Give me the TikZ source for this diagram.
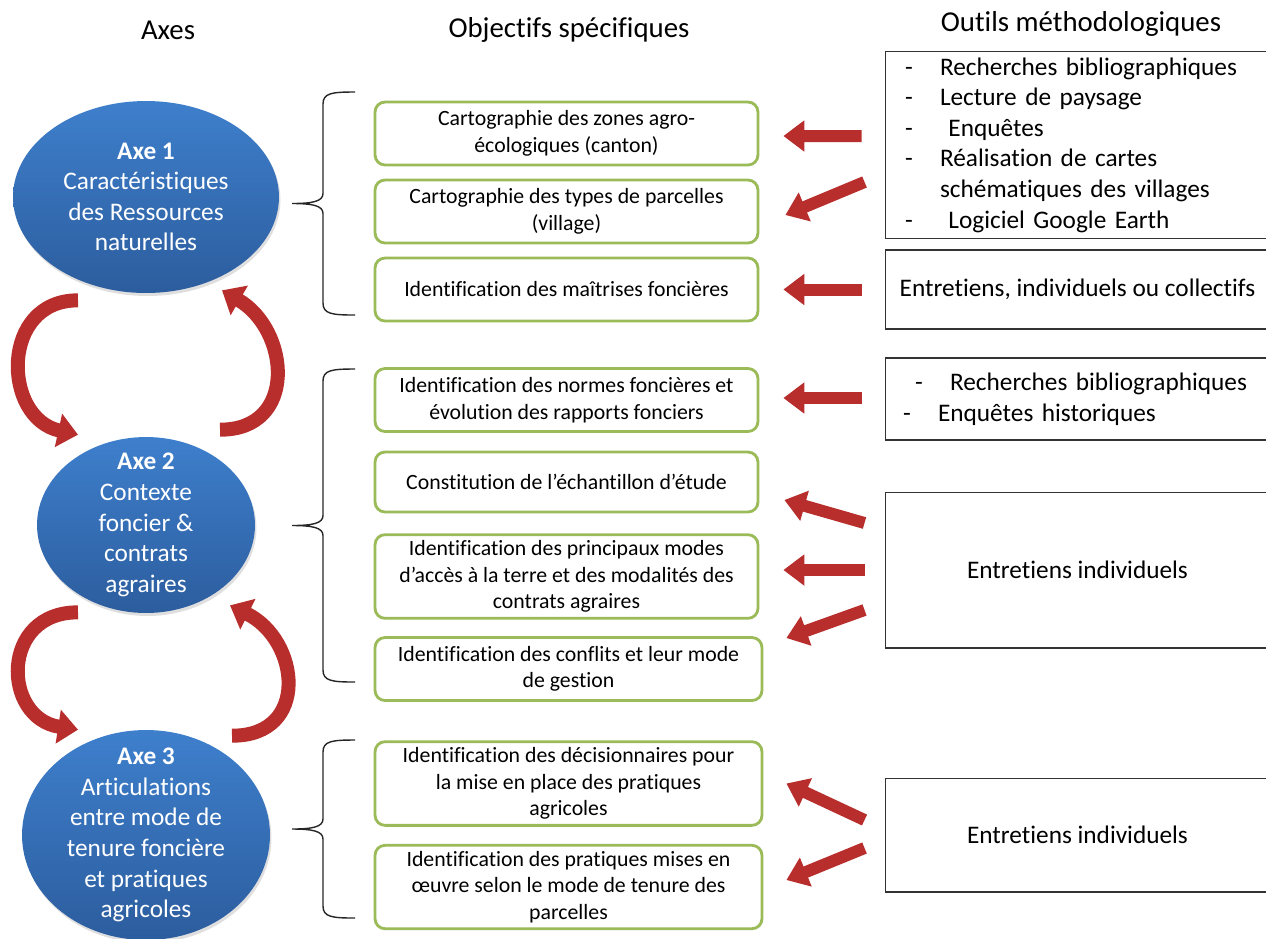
\documentclass[tikz,border=0pt]{standalone}
\usepackage{fontspec}
\setmainfont{Carlito}[Ligatures=NoCommon]
\usetikzlibrary{shapes.geometric,arrows.meta,calc,shadows}
\definecolor{axeblue}{RGB}{62,127,204}
\definecolor{axeblued}{RGB}{44,93,158}
\definecolor{objgreen}{RGB}{155,187,89}
\definecolor{arrowred}{RGB}{184,46,44}
\newcommand{\tiret}[1]{\makebox[0.7cm][l]{-}#1}
\tikzset{
	head/.style={font=\fontsize{16.4}{19.7}\selectfont},
	axe/.style={ellipse, inner xsep=0pt, inner ysep=-0.4cm, align=center, text=white,
		top color=axeblue, bottom color=axeblued,
		drop shadow={opacity=0.25, shadow xshift=0.03cm, shadow yshift=-0.06cm},
		font=\fontsize{14.4}{17.4}\selectfont},
	objbox/.style={rectangle, rounded corners=0.2cm, draw=objgreen, line width=1.6pt,
		fill=white, minimum width=7.66cm, minimum height=1.26cm, align=center,
		font=\fontsize{12.4}{15.1}\selectfont},
	toolbox/.style={rectangle, draw=black!80, line width=0.6pt, minimum width=7.7cm,
		font=\fontsize{14.4}{17.4}\selectfont},
	pointer/.style={draw=arrowred, line width=0.24cm, -{Triangle[length=0.42cm,width=0.6cm]}},
	cyclearrow/.style={draw=arrowred, line width=0.28cm, -{Triangle[length=0.4cm,width=0.66cm]}},
	bracket/.style={draw=black!85, line width=0.8pt}
}
\begin{document}
\begin{tikzpicture}[x=0.02cm, y=-0.02cm]
	\useasboundingbox (0,0) rectangle (1266,938);
	% headers
	\node[head] (hAxes) at (168,30) {Axes};
	\node[head] (hObj) at (569,30) {Objectifs spécifiques};
	\node[head] (hOut) at (1081,24) {Outils méthodologiques};
	% axes
	\node[axe, minimum width=5.32cm, minimum height=3.84cm] (ax1) at (146,197)
		{\textbf{Axe 1}\\Caractéristiques\\des Ressources\\naturelles};
	\node[axe, minimum width=4.36cm, minimum height=3.52cm] (ax2) at (146,525)
		{\textbf{Axe 2}\\Contexte\\foncier \&\\contrats\\agraires};
	\node[axe, minimum width=4.96cm, minimum height=4.2cm] (ax3) at (146,835)
		{\textbf{Axe 3}\\Articulations\\entre mode de\\tenure foncière\\et pratiques\\agricoles};
	% objectifs
	\node[objbox] (b1) at (566.5,133.5) {Cartographie des zones agro-\\écologiques (canton)};
	\node[objbox] (b2) at (566.5,211.5) {Cartographie des types de parcelles\\(village)};
	\node[objbox] (b3) at (566.5,289.5) {Identification des maîtrises foncières};
	\node[objbox] (b4) at (566.5,400) {Identification des normes foncières et\\évolution des rapports fonciers};
	\node[objbox, minimum height=1.2cm] (b5) at (566.5,482) {Constitution de l’échantillon d’étude};
	\node[objbox, minimum height=1.62cm] (b6) at (566.5,576.5) {Identification des principaux modes\\d’accès à la terre et des modalités des\\contrats agraires};
	\node[objbox, minimum width=7.74cm] (b7) at (568.5,669) {Identification des conflits et leur mode\\de gestion};
	\node[objbox, minimum width=7.74cm, minimum height=1.66cm] (b8) at (568.5,783.5) {Identification des décisionnaires pour\\la mise en place des pratiques\\agricoles};
	\node[objbox, minimum width=7.74cm, minimum height=1.64cm] (b9) at (568.5,887) {Identification des pratiques mises en\\œuvre selon le mode de tenure des\\parcelles};
	% outils
	\node[toolbox, minimum height=3.72cm, text width=6.9cm, inner xsep=0.4cm, align=left] (o1) at (1077.5,145)
		{\tiret{Recherches bibliographiques}\\
		\tiret{Lecture de paysage}\\
		\tiret{\ Enquêtes}\\
		\tiret{Réalisation de cartes}\\
		\hspace*{0.7cm}schématiques des villages\\
		\tiret{\ Logiciel Google Earth}};
	\node[toolbox, minimum height=1.58cm] (o2) at (1077.5,289.5) {Entretiens, individuels ou collectifs};
	\node[toolbox, minimum height=1.64cm, text width=6.98cm, inner xsep=0.36cm, align=left] (o3) at (1077.5,399)
		{\hspace*{0.24cm}\tiret{Recherches bibliographiques}\\
		\tiret{Enquêtes historiques}};
	\node[toolbox, minimum height=3.12cm] (o4) at (1077.5,570) {Entretiens individuels};
	\node[toolbox, minimum height=2.28cm] (o5) at (1077.5,835) {Entretiens individuels};
	% accolades
	\def\drawbrace#1#2{
		\draw[bracket] (355,#1) .. controls (332,#1) and (323,{#1+1}) .. (323,{#1+12})
			-- (323,{(#1+#2)/2-10}) .. controls (323,{(#1+#2)/2-2}) and (312,{(#1+#2)/2}) .. (292,{(#1+#2)/2})
			.. controls (312,{(#1+#2)/2}) and (323,{(#1+#2)/2+2}) .. (323,{(#1+#2)/2+10})
			-- (323,{#2-12}) .. controls (323,{#2-1}) and (332,#2) .. (355,#2);
	}
	\drawbrace{92}{315}
	\drawbrace{369}{682}
	\drawbrace{740}{918}
	% fleches outils -> objectifs
	\draw[pointer] ($(o1.west)+(-23,-9)$) -- ($(b1.east)+(24,2.5)$);
	\draw[pointer] ($(o1.west)+(-20,37)$) -- ($(b2.east)+(26,3.5)$);
	\draw[pointer] ($(o2.west)+(-23,0)$) -- ($(b3.east)+(24,0)$);
	\draw[pointer] ($(o3.west)+(-23,-1)$) -- ($(b4.east)+(24,-2)$);
	\draw[pointer] ($(o4.west)+(-20,-47)$) -- ($(b5.east)+(25,18)$);
	\draw[pointer] ($(o4.west)+(-20,0)$) -- ($(b6.east)+(24,-6.5)$);
	\draw[pointer] ($(o4.west)+(-20,40)$) -- ($(b7.east)+(23,-31)$);
	\draw[pointer] ($(o5.west)+(-20,-15)$) -- ($(b8.east)+(23,0)$);
	\draw[pointer] ($(o5.west)+(-20,13)$) -- ($(b9.east)+(23,-7)$);
	% fleches entre les axes
	\draw[cyclearrow] ($(ax1.south)+(-68,7)$) .. controls (0,300) and (2,418) .. ($(ax2.north)+(-68,-2)$);
	\draw[cyclearrow] ($(ax2.north)+(74,-7)$) .. controls (298,430) and (290,330) .. ($(ax1.south)+(76,-3)$);
	\draw[cyclearrow] ($(ax2.south)+(-68,-1)$) .. controls (0,612) and (2,718) .. ($(ax3.north)+(-68,0)$);
	\draw[cyclearrow] ($(ax3.north)+(86,6)$) .. controls (310,736) and (300,640) .. ($(ax2.south)+(84,-8)$);
\end{tikzpicture}
\end{document}
